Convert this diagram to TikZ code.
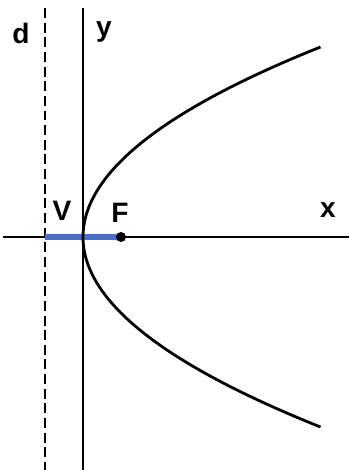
\documentclass[tikz,border=0pt]{standalone}
\usepackage{fontspec}
\setmainfont{Liberation Sans}
\definecolor{segblue}{RGB}{72,110,205}
\begin{document}
\begin{tikzpicture}[x=0.03cm, y=0.03cm,
    lbl/.style={font=\fontsize{24}{26}\selectfont\bfseries, inner sep=0pt, anchor=base},
    axis/.style={line width=1.6pt}]
    \useasboundingbox (-83,-233) rectangle (266,237);
    % Points
    \coordinate (O) at (0,0);
    \coordinate (V) at (-38,0);
    \coordinate (F) at (38,0);
    \coordinate (xl) at (-80,0);
    \coordinate (xr) at (266,0);
    \coordinate (yt) at (0,229);
    \coordinate (yb) at (0,-233);
    \coordinate (dt) at (-38,229);
    \coordinate (db) at (-38,-233);

    % Axes
    \draw[axis] (xl) -- (xr);
    \draw[axis] (yt) -- (yb);

    % Directrice d
    \draw[line width=1.4pt, dash pattern=on 8.5pt off 4pt] (dt) -- (db);

    % Segment V-F
    \draw[segblue, line width=4.5pt] (V) -- (F);
    \fill (F) circle (5);

    % Parabole
    \draw[line width=2.4pt] plot[domain=-190:190, samples=120, variable=\t]
        ({(\t/10)*(\t/10)/1.52}, {\t});

    % Labels
    \node[lbl] (d) at (-62,194) {d};
    \node[lbl] (y) at (21,200) {y};
    \node[lbl] (Vl) at (-21,17) {V};
    \node[lbl] (Fl) at (37,15) {F};
    \node[lbl] (x) at (245,20) {x};
\end{tikzpicture}
\end{document}
